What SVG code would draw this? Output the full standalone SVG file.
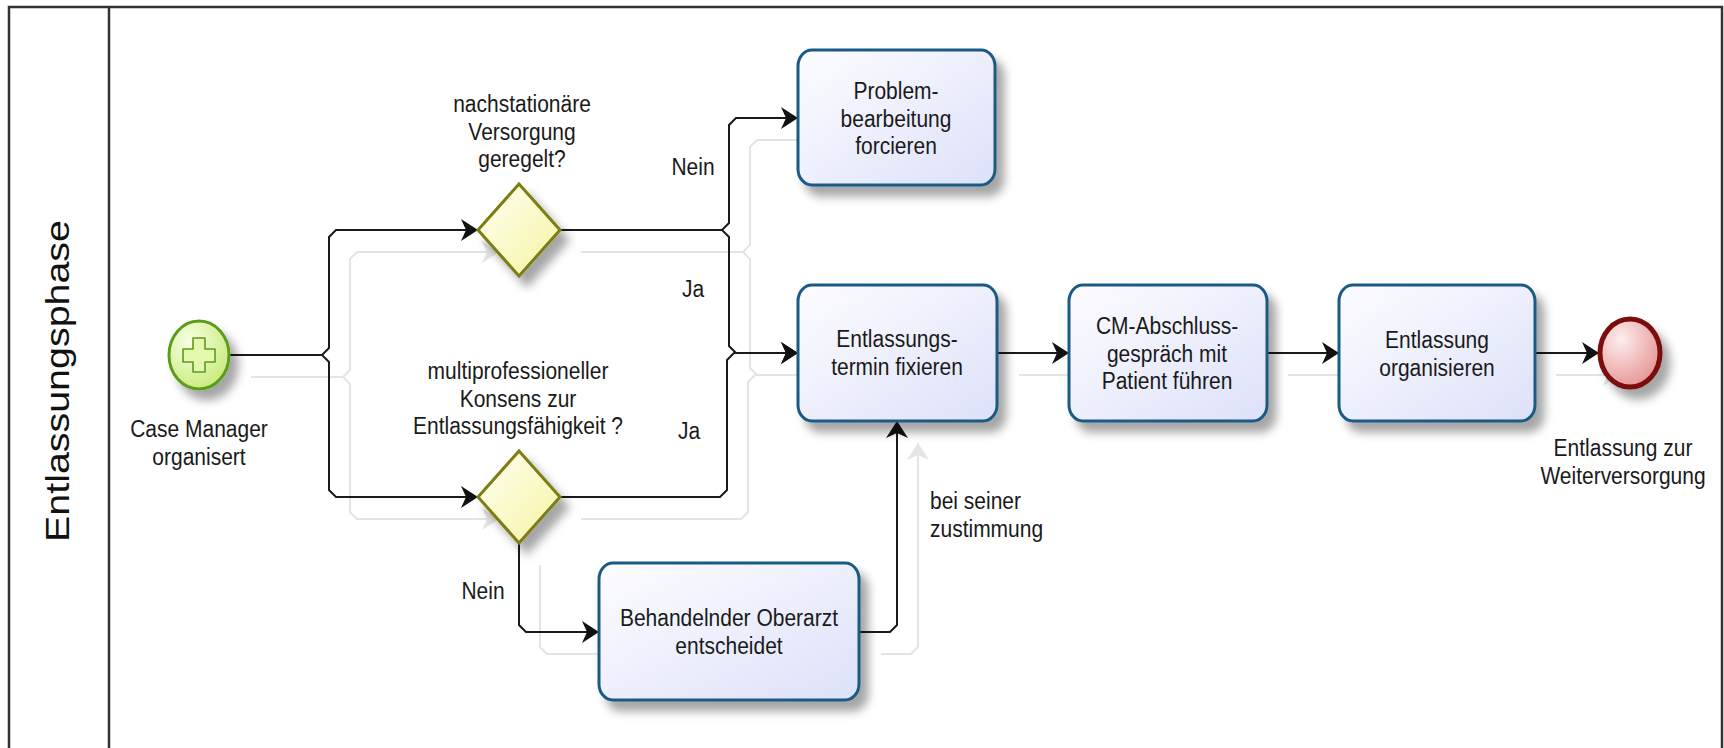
<svg xmlns="http://www.w3.org/2000/svg" width="1724" height="748" viewBox="0 0 1724 748">
<style>
.t{font-family:"Liberation Sans",Arial,sans-serif;font-size:21px;fill:#1a1a1a;text-anchor:middle}
.ts{text-anchor:start}
.flow{fill:none;stroke:#1a1a1a;stroke-width:2;marker-end:url(#arrow)}
.shadow{fill:none;stroke:#e4e4e4;stroke-width:2;marker-end:url(#arrowS)}
.task{fill:url(#taskFill);stroke:#1d5a86;stroke-width:3;filter:url(#ds)}
.gw{fill:url(#gwFill);stroke:#7d7d12;stroke-width:3;stroke-linejoin:miter;filter:url(#ds)}
</style>
<defs>
<linearGradient id="taskFill" x1="0" y1="0" x2="1" y2="1">
<stop offset="0" stop-color="#fdfdff"/><stop offset="1" stop-color="#dde1f9"/>
</linearGradient>
<linearGradient id="gwFill" x1="0" y1="0" x2="1" y2="1">
<stop offset="0" stop-color="#fffff4"/><stop offset="1" stop-color="#f5f4a2"/>
</linearGradient>
<radialGradient id="startFill" cx="0.35" cy="0.3" r="0.8">
<stop offset="0" stop-color="#f8ffe4"/><stop offset="1" stop-color="#c4ea74"/>
</radialGradient>
<radialGradient id="endFill" cx="0.35" cy="0.3" r="0.8">
<stop offset="0" stop-color="#fdeeee"/><stop offset="1" stop-color="#e58e8e"/>
</radialGradient>
<filter id="ds" x="-30%" y="-30%" width="170%" height="170%">
<feDropShadow dx="8" dy="10" stdDeviation="5" flood-color="#000" flood-opacity="0.35"/>
</filter>
<marker id="arrow" viewBox="-18 -12 19 24" markerWidth="19" markerHeight="24" refX="0" refY="0" orient="auto" markerUnits="userSpaceOnUse">
<path d="M0,0 L-17,-11 L-12,0 L-17,11 Z" fill="#111"/>
</marker>
<marker id="arrowS" viewBox="-18 -12 19 24" markerWidth="19" markerHeight="24" refX="0" refY="0" orient="auto" markerUnits="userSpaceOnUse">
<path d="M0,0 L-17,-11 L-12,0 L-17,11 Z" fill="#e4e4e4"/>
</marker>
</defs>
<rect x="0" y="0" width="1724" height="748" fill="#fff"/>
<g id="pool">
<rect x="9" y="7" width="1713" height="800" fill="#fff" stroke="#333" stroke-width="2.5"/>
<line x1="109" y1="7" x2="109" y2="748" stroke="#333" stroke-width="2.5"/>
<text transform="translate(69,381) rotate(-90)" style="font-family:'Liberation Sans',Arial,sans-serif;font-size:34px;fill:#111;text-anchor:middle" textLength="322" lengthAdjust="spacingAndGlyphs">Entlassungsphase</text>
</g>
<g id="connector-shadows" transform="translate(21,22)">
<path class="shadow" d="M230,355 H322 L329,348 V237 L336,230 H478"/>
<path class="shadow" d="M230,355 H322 L329,362 V490 L336,497 H478"/>
<path class="shadow" d="M560,230 H722 L729,223 V125 L736,118 H798"/>
<path class="shadow" d="M560,230 H722 L729,237 V346 L736,353 H798"/>
<path class="shadow" d="M560,497 H720 L727,490 V360 L734,353 H798"/>
<path class="shadow" d="M519,543 V625 L526,632 H599"/>
<path class="shadow" d="M860,632 H890 L897,625 V421"/>
<path class="shadow" d="M998,353 H1069"/>
<path class="shadow" d="M1267,353 H1339"/>
<path class="shadow" d="M1535,353 H1599"/>
</g>
<g id="connectors">
<path class="flow" d="M230,355 H322 L329,348 V237 L336,230 H478"/>
<path class="flow" d="M230,355 H322 L329,362 V490 L336,497 H478"/>
<path class="flow" d="M560,230 H722 L729,223 V125 L736,118 H798"/>
<path class="flow" d="M560,230 H722 L729,237 V346 L736,353 H798"/>
<path class="flow" d="M560,497 H720 L727,490 V360 L734,353 H798"/>
<path class="flow" d="M519,543 V625 L526,632 H599"/>
<path class="flow" d="M860,632 H890 L897,625 V421"/>
<path class="flow" d="M998,353 H1069"/>
<path class="flow" d="M1267,353 H1339"/>
<path class="flow" d="M1535,353 H1599"/>
<text class="t" transform="matrix(1 0 0 1.15 693 175)">Nein</text>
<text class="t" transform="matrix(1 0 0 1.15 693 297)">Ja</text>
<text class="t" transform="matrix(1 0 0 1.15 689 439)">Ja</text>
<text class="t" transform="matrix(1 0 0 1.15 483 599)">Nein</text>
<text class="t ts" transform="matrix(1 0 0 1.15 930 509)"><tspan x="0" y="0">bei seiner</tspan><tspan x="0" y="24">zustimmung</tspan></text>
</g>
<g id="start">
<ellipse cx="199" cy="355" rx="30" ry="34" fill="url(#startFill)" stroke="#5c9c1c" stroke-width="3" filter="url(#ds)"/>
<path d="M193,338 H205 V349 H215 V362 H205 V372 H193 V362 H183 V349 H193 Z" fill="#e6f7ae" stroke="#5c9c1c" stroke-width="1.6" stroke-linejoin="round"/>
<text class="t" transform="matrix(1 0 0 1.15 199 437)"><tspan x="0" y="0">Case Manager</tspan><tspan x="0" y="24">organisert</tspan></text>
</g>
<g id="gw1">
<polygon class="gw" points="519,184 560,230 519,276 478,230"/>
<text class="t" transform="matrix(1 0 0 1.15 522 112)"><tspan x="0" y="0">nachstationäre</tspan><tspan x="0" y="24">Versorgung</tspan><tspan x="0" y="48">geregelt?</tspan></text>
</g>
<g id="gw2">
<polygon class="gw" points="519,451 560,497 519,543 478,497"/>
<text class="t" transform="matrix(1 0 0 1.15 518 379)"><tspan x="0" y="0">multiprofessioneller</tspan><tspan x="0" y="24">Konsens zur</tspan><tspan x="0" y="48">Entlassungsfähigkeit ?</tspan></text>
</g>
<g id="task-problem">
<rect class="task" x="798" y="50" width="197" height="135" rx="14" ry="16"/>
<text class="t" transform="matrix(1 0 0 1.15 896 99)"><tspan x="0" y="0">Problem-</tspan><tspan x="0" y="24">bearbeitung</tspan><tspan x="0" y="48">forcieren</tspan></text>
</g>
<g id="task-termin">
<rect class="task" x="798" y="285" width="199" height="136" rx="14" ry="16"/>
<text class="t" transform="matrix(1 0 0 1.15 897 347)"><tspan x="0" y="0">Entlassungs-</tspan><tspan x="0" y="24">termin fixieren</tspan></text>
</g>
<g id="task-oberarzt">
<rect class="task" x="599" y="563" width="260" height="137" rx="14" ry="16"/>
<text class="t" transform="matrix(1 0 0 1.15 729 626)"><tspan x="0" y="0">Behandelnder Oberarzt</tspan><tspan x="0" y="24">entscheidet</tspan></text>
</g>
<g id="task-cm">
<rect class="task" x="1069" y="285" width="198" height="136" rx="14" ry="16"/>
<text class="t" transform="matrix(1 0 0 1.15 1167 334)"><tspan x="0" y="0">CM-Abschluss-</tspan><tspan x="0" y="24">gespräch mit</tspan><tspan x="0" y="48">Patient führen</tspan></text>
</g>
<g id="task-organisieren">
<rect class="task" x="1339" y="285" width="196" height="136" rx="14" ry="16"/>
<text class="t" transform="matrix(1 0 0 1.15 1437 348)"><tspan x="0" y="0">Entlassung</tspan><tspan x="0" y="24">organisieren</tspan></text>
</g>
<g id="end">
<ellipse cx="1630" cy="353" rx="30" ry="34" fill="url(#endFill)" stroke="#7b0c0c" stroke-width="5" filter="url(#ds)"/>
<text class="t" transform="matrix(1 0 0 1.15 1623 456)"><tspan x="0" y="0">Entlassung zur</tspan><tspan x="0" y="24">Weiterversorgung</tspan></text>
</g>
</svg>
